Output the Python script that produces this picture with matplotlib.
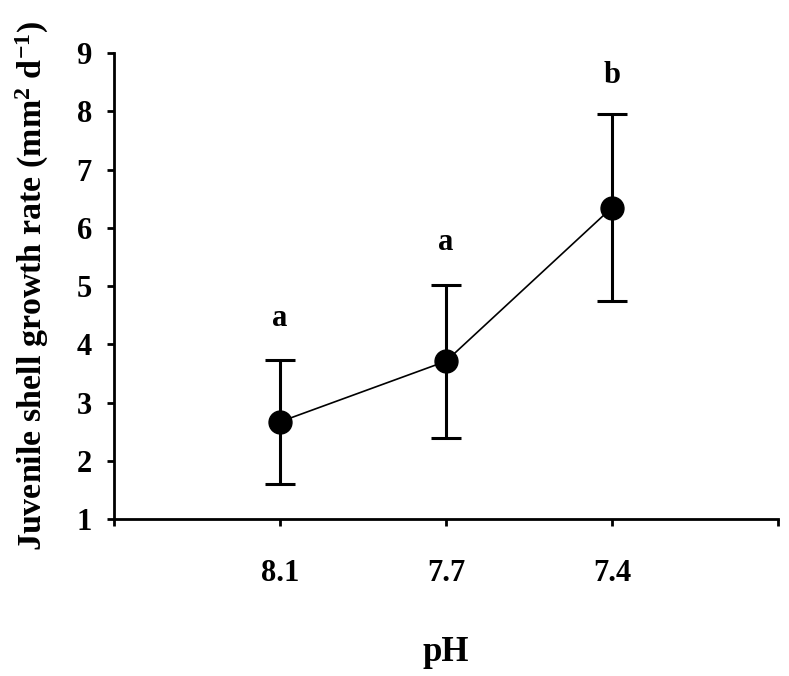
import matplotlib
matplotlib.use("Agg")
import matplotlib.pyplot as plt

# Data
ph_labels = ["8.1", "7.7", "7.4"]
growth_mean = [2.67, 3.71, 6.35]
growth_err = [1.07, 1.31, 1.60]
sig_letters = ["a", "a", "b"]
letter_y = [4.45, 5.75, 8.62]

plt.rcParams["font.family"] = ["Liberation Serif", "DejaVu Serif"]
plt.rcParams["font.weight"] = "bold"
plt.rcParams["mathtext.fontset"] = "custom"
plt.rcParams["mathtext.rm"] = "Liberation Serif:bold"
plt.rcParams["mathtext.bf"] = "Liberation Serif:bold"
plt.rcParams["mathtext.default"] = "bf"

fig = plt.figure(figsize=(7.89, 6.76), dpi=100)
ax = fig.add_axes([0.1445, 0.2322, 0.8415, 0.689])

x = list(range(1, len(ph_labels) + 1))
ax.errorbar(x, growth_mean, yerr=growth_err, fmt="none", ecolor="black",
            elinewidth=2.2, capsize=11, capthick=2.2, zorder=2)
ax.plot(x, growth_mean, color="black", lw=1.2, marker="o", markersize=16.5,
        markerfacecolor="black", markeredgecolor="black", zorder=3)

for xi, lab, ly in zip(x, sig_letters, letter_y):
    ax.text(xi, ly, lab, ha="center", va="center", fontsize=22, fontweight="bold")

ax.set_xlim(0, 4)
ax.set_ylim(1, 9)
ax.set_xticks([0, 1, 2, 3, 4])
ax.set_xticklabels([""] + ph_labels + [""])
ax.set_yticks(range(1, 10))

for side in ["top", "right"]:
    ax.spines[side].set_visible(False)
for side in ["left", "bottom"]:
    ax.spines[side].set_linewidth(2)

ax.tick_params(axis="both", direction="out", length=5, width=2, labelsize=22)
ax.tick_params(axis="x", pad=24)
ax.tick_params(axis="y", pad=11)
for t in ax.get_xticklabels() + ax.get_yticklabels():
    t.set_fontweight("bold")

ax.set_ylabel(r"Juvenile shell growth rate (mm$^{2}$ d$^{-1}$)", fontsize=24.5,
              fontweight="bold", labelpad=18)
ax.set_xlabel("pH", fontsize=25, fontweight="bold", labelpad=34)

fig.savefig("out.png", dpi=100)
